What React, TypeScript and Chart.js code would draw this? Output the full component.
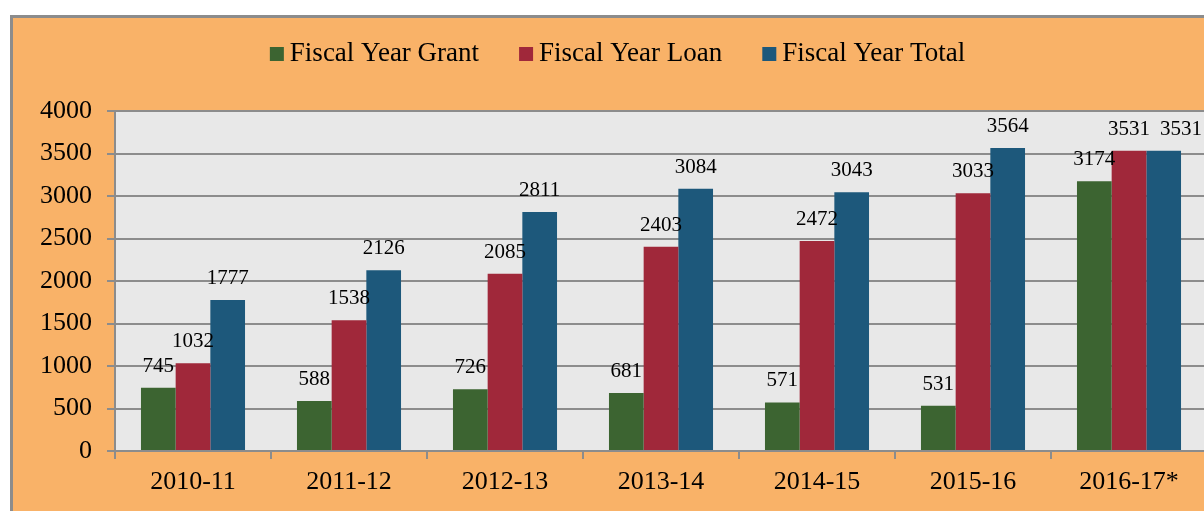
import React, { useEffect, useRef } from "react";
import { Chart, registerables } from "chart.js";

Chart.register(...registerables);

const categories = ["2010-11", "2011-12", "2012-13", "2013-14", "2014-15", "2015-16", "2016-17*"];
const grantValues = [745, 588, 726, 681, 571, 531, 3174];
const loanValues = [1032, 1538, 2085, 2403, 2472, 3033, 3531];
const totalValues = [1777, 2126, 2811, 3084, 3043, 3564, 3531];
const seriesNames = ["Fiscal Year Grant", "Fiscal Year Loan", "Fiscal Year Total"];
const seriesColors = ["#3C6431", "#A0283A", "#1D587B"];

const FONT = "'Liberation Serif', 'Times New Roman', serif";
const GRID = "#8C8C8C";

const CANVAS_W = 1209;
const CANVAS_H = 493;

const plotBg = {
  id: "plotBg",
  beforeDraw(chart: any) {
    const { ctx, chartArea } = chart;
    ctx.save();
    ctx.fillStyle = "#E8E8E8";
    ctx.fillRect(chartArea.left, chartArea.top, chartArea.right - chartArea.left, chartArea.bottom - chartArea.top);
    ctx.restore();
  },
};

const valueLabels = {
  id: "valueLabels",
  afterDatasetsDraw(chart: any) {
    const { ctx } = chart;
    ctx.save();
    ctx.font = `21px ${FONT}`;
    ctx.fillStyle = "#000";
    ctx.textAlign = "center";
    ctx.textBaseline = "alphabetic";
    const n = chart.data.labels.length;
    for (let j = 0; j < n; j++) {
      let prev: { right: number; y: number } | null = null;
      chart.data.datasets.forEach((ds: any, i: number) => {
        const el: any = chart.getDatasetMeta(i).data[j];
        const text = String(ds.data[j]);
        const w = ctx.measureText(text).width;
        let cx = el.x;
        const y = el.y - 16;
        if (prev && Math.abs(prev.y - y) < 20 && cx - w / 2 < prev.right + 10) {
          cx = prev.right + 10 + w / 2;
        }
        ctx.fillText(text, cx, y);
        prev = { right: cx + w / 2, y };
      });
    }
    ctx.restore();
  },
};

const customLegend = {
  id: "customLegend",
  afterDraw(chart: any) {
    const { ctx } = chart;
    ctx.save();
    ctx.font = `27px ${FONT}`;
    ctx.textBaseline = "alphabetic";
    ctx.textAlign = "left";
    const box = 14;
    const gapBox = 6;
    const gapItem = 40;
    const items = chart.data.datasets.map((ds: any) => ({
      label: ds.label,
      color: ds.backgroundColor,
      w: box + gapBox + ctx.measureText(ds.label).width,
    }));
    const total = items.reduce((s: number, it: any) => s + it.w, 0) + gapItem * (items.length - 1);
    let x = chart.width / 2 - total / 2;
    const baseline = 43;
    items.forEach((it: any) => {
      ctx.fillStyle = it.color;
      ctx.fillRect(x, baseline - box, box, box);
      ctx.fillStyle = "#000";
      ctx.fillText(it.label, x + box + gapBox, baseline);
      x += it.w + gapItem;
    });
    ctx.restore();
  },
};

export default function App() {
  const ref = useRef<HTMLCanvasElement | null>(null);

  useEffect(() => {
    if (!ref.current) return;
    const values = [grantValues, loanValues, totalValues];
    const chart = new Chart(ref.current, {
      type: "bar",
      data: {
        labels: categories,
        datasets: values.map((v, i) => ({
          label: seriesNames[i],
          data: v,
          backgroundColor: seriesColors[i],
          borderWidth: 0,
          categoryPercentage: 0.667,
          barPercentage: 1.0,
        })),
      },
      options: {
        responsive: false,
        animation: false,
        devicePixelRatio: 1,
        layout: { padding: { top: 93, left: 0, right: CANVAS_W - 1194, bottom: 0 } },
        plugins: {
          legend: { display: false },
          tooltip: { enabled: false },
        },
        scales: {
          x: {
            afterFit(scale: any) {
              scale.height = 60;
            },
            grid: {
              drawOnChartArea: false,
              drawTicks: true,
              tickLength: 8,
              color: GRID,
              lineWidth: 2,
              offset: true,
            },
            border: { color: GRID, width: 2 },
            ticks: {
              color: "#000",
              font: { family: FONT, size: 26 },
              padding: 8,
              maxRotation: 0,
            },
          },
          y: {
            min: 0,
            max: 4000,
            afterFit(scale: any) {
              scale.width = 102;
            },
            grid: {
              color: GRID,
              lineWidth: 2,
              tickLength: 8,
            },
            border: { color: GRID, width: 2 },
            ticks: {
              stepSize: 500,
              color: "#000",
              font: { family: FONT, size: 26 },
              padding: 15,
              callback: (v: any) => String(v),
            },
          },
        },
      },
      plugins: [plotBg, valueLabels, customLegend],
    });
    return () => chart.destroy();
  }, []);

  return (
    <div style={{ position: "fixed", inset: 0, overflow: "hidden", background: "#fff" }}>
      <div
        style={{
          position: "absolute",
          left: 10,
          top: 15,
          width: CANVAS_W,
          height: 520,
          border: "3px solid #8C8C8C",
          background: "#F9B268",
        }}
      >
        <canvas
          ref={ref}
          width={CANVAS_W}
          height={CANVAS_H}
          style={{ position: "absolute", left: 0, top: 0, width: CANVAS_W, height: CANVAS_H }}
        />
      </div>
    </div>
  );
}
